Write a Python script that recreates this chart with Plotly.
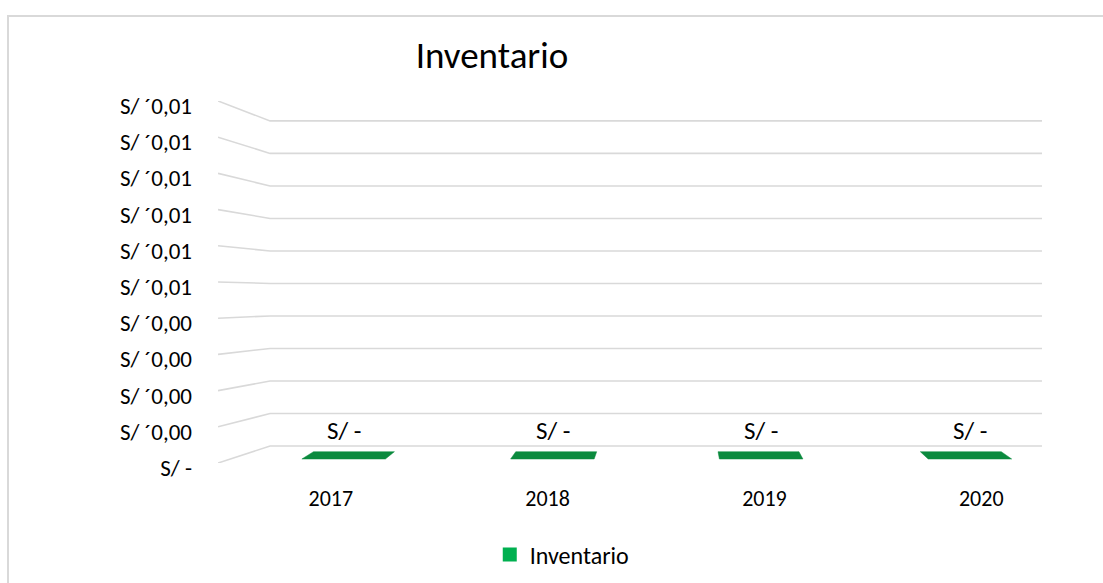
import plotly.graph_objects as go

# chart data
categories = ["2017", "2018", "2019", "2020"]
inventario = [0, 0, 0, 0]
tick_vals = [0, 0.001, 0.002, 0.003, 0.004, 0.005, 0.006, 0.007, 0.008, 0.009, 0.01]
tick_text = ["S/ -"] + ["S/ \u00b40,00"] * 4 + ["S/ \u00b40,01"] * 6
bar_labels = ["S/ -", "S/ -", "S/ -", "S/ -"]

FONT = "Carlito, Calibri, Lato, sans-serif"
GRID = "#d9d9d9"

# fake 3d: x in category units, y in value units (front plane),
# z is depth 0 (front) .. 1 (back wall)
def proj(i, v, z):
    xb = 0.113 + 0.929 * i
    vb = 0.00047 + 0.898 * v
    return i + (xb - i) * z, v + (vb - v) * z

WALL_FRONT = -0.565
WALL_BACK = -0.32
BACK_RIGHT = 3.316

fig = go.Figure()

# walls / gridlines with the perspective kink
for v in tick_vals:
    vb = proj(0, v, 1)[1]
    fig.add_trace(go.Scatter(
        x=[WALL_FRONT, WALL_BACK, BACK_RIGHT],
        y=[v, vb, vb],
        mode="lines",
        line=dict(color=GRID, width=1.6),
        hoverinfo="skip",
        showlegend=False,
        cliponaxis=False,
    ))

# columns (flat because every value is zero)
half = 0.2
z0, z1 = 0.235, 0.665
for k, (cat, val) in enumerate(zip(categories, inventario)):
    pts = [proj(k - half, val, z0), proj(k + half, val, z0),
           proj(k + half, val, z1), proj(k - half, val, z1)]
    xs = [p[0] for p in pts] + [pts[0][0]]
    ys = [p[1] for p in pts] + [pts[0][1]]
    fig.add_trace(go.Scatter(
        x=xs, y=ys, mode="lines", fill="toself",
        fillcolor="#0b8a3e", line=dict(color="#0b8a3e", width=0.5),
        name=cat, showlegend=False,
    ))
    lx, ly = proj(k, val, 0.25)
    fig.add_annotation(
        x=lx, y=ly, text=bar_labels[k], showarrow=False,
        yanchor="middle", yshift=28,
        font=dict(family=FONT, size=25, color="#000000"),
    )

# category labels sit in front of the floor
cat_pos = [proj(k, 0, -0.3)[0] for k in range(len(categories))]

# legend entry
fig.add_trace(go.Scatter(
    x=[None], y=[None], mode="markers", name="Inventario",
    marker=dict(symbol="square", size=14, color="#00b050"),
))

fig.update_layout(
    width=1103,
    height=583,
    margin=dict(l=218, r=25, t=101, b=120, autoexpand=False),
    paper_bgcolor="white",
    plot_bgcolor="white",
    font=dict(family=FONT, size=22, color="#000000"),
    title=dict(
        text="Inventario",
        x=492 / 1103, xanchor="center",
        y=1 - 55 / 583, yanchor="middle",
        font=dict(family=FONT, size=37, color="#000000"),
    ),
    showlegend=True,
    legend=dict(
        orientation="h", x=0.316, xanchor="left", y=-0.254, yanchor="middle",
        font=dict(family=FONT, size=24), itemwidth=30,
    ),
    xaxis=dict(
        range=[-0.5652, 3.4856],
        tickmode="array", tickvals=cat_pos, ticktext=categories,
        showgrid=False, zeroline=False, showline=False, ticks="",
        ticklabelstandoff=20, automargin=False,
        fixedrange=True,
    ),
    yaxis=dict(
        range=[0, 0.01],
        tickmode="array", tickvals=tick_vals, ticktext=tick_text,
        showgrid=False, zeroline=False, showline=False, ticks="",
        ticklabelstandoff=25, ticklabelshift=5, automargin=False,
        tickfont=dict(size=23),
        fixedrange=True,
    ),
)

# light chart-area border like the spreadsheet frame (only top/left visible)
fig.add_shape(
    type="rect", xref="paper", yref="paper",
    x0=(8 - 218) / 860, x1=(1140 - 218) / 860,
    y0=(463 - 640) / 362, y1=(463 - 16) / 362,
    line=dict(color=GRID, width=2), layer="below",
)

fig.write_html("out.html", config={"displayModeBar": False},
               post_script="document.body.style.margin='0';")
